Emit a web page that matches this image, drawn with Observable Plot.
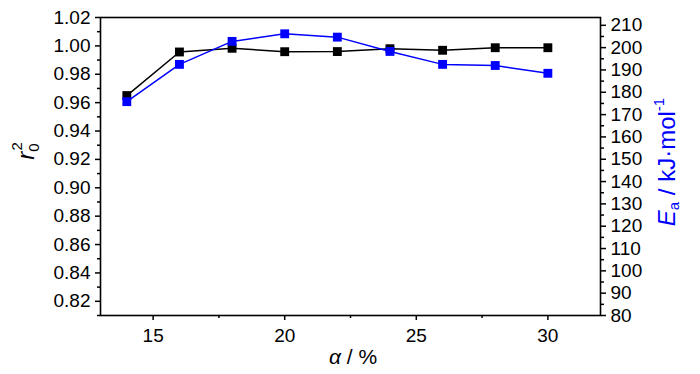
<!DOCTYPE html>
<html><head><meta charset="utf-8">
<script src="https://cdn.jsdelivr.net/npm/d3@7"></script>
<script src="https://cdn.jsdelivr.net/npm/@observablehq/plot@0.6"></script>
<style>body{margin:0;background:#fff} svg{display:block}</style>
</head><body><div id="chart"></div>
<script>
const alpha = [14, 16, 18, 20, 22, 24, 26, 28, 30];
const r2 = [0.965, 0.9957, 0.9983, 0.9959, 0.996, 0.998, 0.9969, 0.9987, 0.9987];
const Ea = [175.8, 192.5, 202.8, 206.2, 204.7, 198.3, 192.5, 192.0, 188.5];
const xTicks = [15, 20, 25, 30];
const xMinor = [17.5, 22.5, 27.5];
const leftTicks = [0.82, 0.84, 0.86, 0.88, 0.90, 0.92, 0.94, 0.96, 0.98, 1.00, 1.02];
const leftMinor = [0.81, 0.83, 0.85, 0.87, 0.89, 0.91, 0.93, 0.95, 0.97, 0.99, 1.01];
const rightTicks = [80, 90, 100, 110, 120, 130, 140, 150, 160, 170, 180, 190, 200, 210];
const rightMinor = [85, 95, 105, 115, 125, 135, 145, 155, 165, 175, 185, 195, 205];
const xDomain = [13, 32];
const leftDomain = [0.81, 1.02];
const rightDomain = [80, 213.5];

const rows = alpha.map((a, i) => ({alpha: a, r2: r2[i], Ea: Ea[i]}));
const toLeft = d3.scaleLinear().domain(rightDomain).range(leftDomain);

const font = "'Liberation Sans', Arial, sans-serif";
const chart = Plot.plot({
  width: 700, height: 374,
  marginLeft: 100, marginRight: 100, marginTop: 17, marginBottom: 59,
  style: {fontFamily: font, fontSize: "19px", color: "#000", background: "#fff"},
  x: {domain: xDomain},
  y: {domain: leftDomain},
  marks: [
    Plot.frame({stroke: "#000", strokeWidth: 1.6}),
    Plot.axisX(xTicks, {tickSize: 5, tickPadding: 8, strokeWidth: 1.5, label: null, fontSize: 19}),
    Plot.axisX(xMinor, {tickSize: 3, tickFormat: () => "", strokeWidth: 1.5, label: null}),
    Plot.axisY(leftTicks, {tickSize: 5, tickPadding: 5, strokeWidth: 1.5, label: null, fontSize: 19, tickFormat: d3.format(".2f")}),
    Plot.axisY(leftMinor, {tickSize: 3, tickFormat: () => "", strokeWidth: 1.5, label: null}),
    Plot.axisY(rightTicks.map(toLeft), {anchor: "right", tickSize: 5, tickPadding: 5, strokeWidth: 1.5, label: null, fontSize: 19, tickFormat: d => String(Math.round(toLeft.invert(d)))}),
    Plot.axisY(rightMinor.map(toLeft), {anchor: "right", tickSize: 3, tickFormat: () => "", strokeWidth: 1.5, label: null}),
    Plot.line(rows, {x: "alpha", y: "r2", stroke: "#000", strokeWidth: 1.5}),
    Plot.dot(rows, {x: "alpha", y: "r2", symbol: "square", r: 5, fill: "#000", stroke: null}),
    Plot.line(rows, {x: "alpha", y: d => toLeft(d.Ea), stroke: "#0000ff", strokeWidth: 1.5}),
    Plot.dot(rows, {x: "alpha", y: d => toLeft(d.Ea), symbol: "square", r: 5, fill: "#0000ff", stroke: null})
  ]
});
document.getElementById("chart").appendChild(chart);

const svg = d3.select(chart);
// left title r0^2
const lt = svg.append("text")
  .attr("transform", "translate(34,151) rotate(-90)")
  .attr("text-anchor", "middle")
  .attr("font-family", font).attr("font-size", 24).attr("fill", "#000");
lt.append("tspan").attr("font-style", "italic").text("r");
lt.append("tspan").attr("font-size", 15).attr("dy", 5).text("0");
lt.append("tspan").attr("font-size", 15).attr("dx", -7).attr("dy", -17).text("2");

// right title Ea / kJ·mol-1
const rt = svg.append("text")
  .attr("transform", "translate(675,162) rotate(-90)")
  .attr("text-anchor", "middle")
  .attr("font-family", font).attr("font-size", 24).attr("fill", "#0000ff");
rt.append("tspan").attr("font-style", "italic").text("E");
rt.append("tspan").attr("font-size", 15).attr("dy", 4).text("a");
rt.append("tspan").attr("dy", -4).text(" / kJ·mol");
rt.append("tspan").attr("font-size", 15).attr("dy", -11).text("-1");

// x title
const xt = svg.append("text")
  .attr("x", 353).attr("y", 364)
  .attr("text-anchor", "middle")
  .attr("font-family", font).attr("font-size", 21).attr("fill", "#000");
xt.append("tspan").attr("font-style", "italic").text("α");
xt.append("tspan").text(" / %");
</script>
</body></html>
